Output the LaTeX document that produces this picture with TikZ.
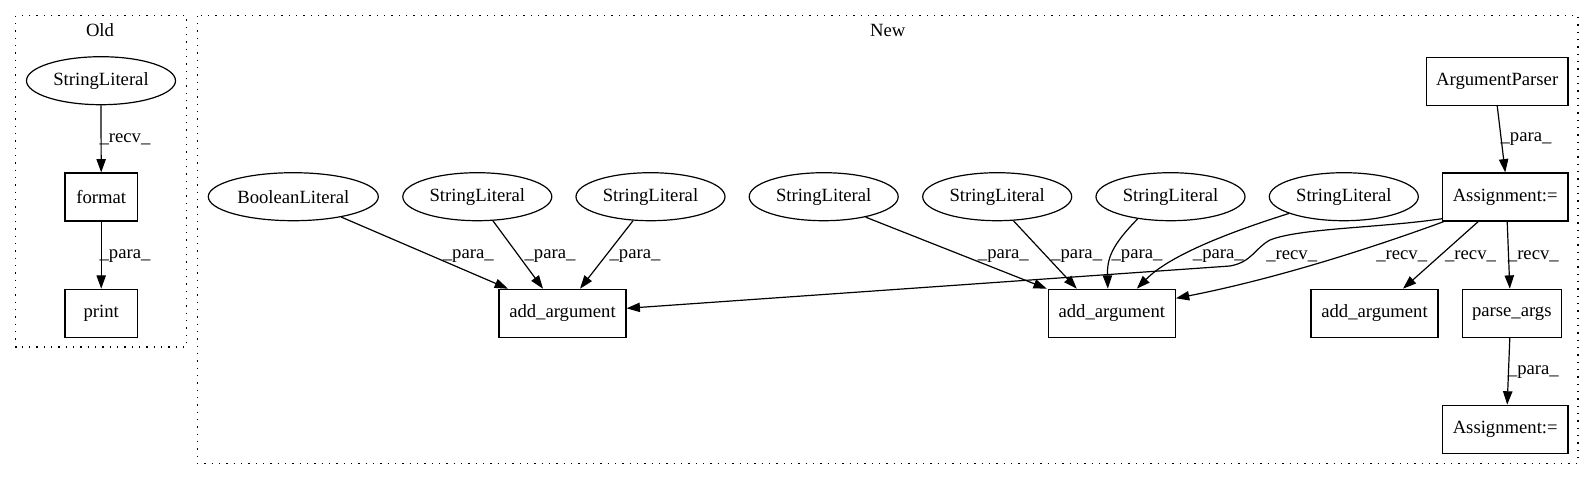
\documentclass[tikz,border=0pt]{standalone}
\usepackage{fontspec}
\setmainfont{Liberation Serif}
\usetikzlibrary{shapes.geometric, arrows.meta, calc}

\begin{document}
\begin{tikzpicture}[x=0.75pt, y=-0.75pt, >={Triangle[length=10pt, width=7pt]},
	font=\fontsize{14pt}{17pt}\selectfont, line width=0.9pt,
	lit/.style={draw, ellipse, inner sep=0pt, minimum width=111.75pt, minimum height=36pt},
	op/.style={draw, rectangle, inner sep=0pt, minimum height=36pt},
	lbl/.style={inner sep=0pt},
	cluster/.style={draw, line width=0.9pt, dash pattern=on 1pt off 4.5pt}]
	
	% 1. Canvas and the two clusters
	\useasboundingbox (0,0) rectangle (1595,480);
	\draw[cluster] (15.7,15.7) rectangle (186.7,347);
	\draw[cluster] (197.3,15.7) rectangle (1578,463.3);
	\node[lbl] (oldtitle) at (100,30) {Old};
	\node[lbl] (newtitle) at (887.7,30) {New};
	
	% 2. Old version
	\node[lit] (oldlit) at (101,80.7) {StringLiteral};
	\node[op, minimum width=54.2pt] (format) at (101.2,197) {format};
	\node[op, minimum width=54.2pt] (print) at (101.2,313.3) {print};
	
	% 3. New version: the literals in one row
	\node[lit, minimum width=127.5pt] (boollit) at (293.3,196.7) {BooleanLiteral};
	\foreach \n/\x in {1/477.3, 2/650.5, 3/823.7, 4/997.2, 5/1170.5, 6/1343.8}
		\node[lit] (lit\n) at (\x,196.7) {StringLiteral};
	
	% 4. New version: the calls
	\node[op, minimum width=106.3pt] (argparser) at (1497.2,81.2) {ArgumentParser};
	\node[op, minimum width=94.3pt] (assign1) at (1505.2,197) {Assignment:=};
	\node[op, minimum width=95.25pt] (addarg1) at (562.5,313.3) {add\_argument};
	\node[op, minimum width=95.25pt] (addarg2) at (1111.8,313.3) {add\_argument};
	\node[op, minimum width=95.25pt] (addarg3) at (1374.5,313.3) {add\_argument};
	\node[op, minimum width=74.25pt] (parseargs) at (1511.8,313.3) {parse\_args};
	\node[op, minimum width=94.3pt] (assign2) at (1505.2,429.2) {Assignment:=};
	
	% 5. Old edges
	\draw[->] (oldlit.south) -- (format.north);
	\draw[->] (format.south) -- (print.north);
	\node[lbl] (oldrecv) at (125,139.3) {\_recv\_};
	\node[lbl] (oldpara) at (125,256) {\_para\_};
	
	% 6. Literals into add_argument
	\draw[->] (boollit.-23.5) -- ($(addarg1.north)+(-54.5,0)$);
	\draw[->] (lit1.-57) -- ($(addarg1.north)+(-19.5,0)$);
	\draw[->] (lit2.-126) -- ($(addarg1.north)+(17.5,0)$);
	\draw[->] (lit3.-26) -- ($(addarg2.north)+(-65,0)$);
	\draw[->] (lit4.-56) -- ($(addarg2.north)+(-35,0)$);
	\draw[->] (lit5.-146) .. controls (1112,245) and (1107,258) .. ($(addarg2.north)+(-4,0)$);
	\draw[->] (lit6.-163) .. controls (1230,232) and (1170,255) .. ($(addarg2.north)+(25,0)$);
	\node[lbl] (para1) at (468.3,256) {\_para\_};
	\node[lbl] (para2) at (550,256) {\_para\_};
	\node[lbl] (para3) at (635,256) {\_para\_};
	\node[lbl] (para4) at (1003.3,256) {\_para\_};
	\node[lbl] (para5) at (1076.7,256) {\_para\_};
	\node[lbl] (para6) at (1137,256) {\_para\_};
	\node[lbl] (para7) at (1218.3,256) {\_para\_};
	
	% 7. Parser edges
	\draw[->] (argparser.south) -- (assign1.north);
	\draw[->] ($(assign1.south west)+(1,-3)$) .. controls (1380,228) and (1300,228) .. (1270,240)
		.. controls (1255,248) and (1252,262) .. (1230,266) -- ($(addarg1.east)+(0,-5)$);
	\draw[->] ($(assign1.south west)+(2,0)$) .. controls (1380,245) and (1280,278) .. ($(addarg2.east)+(0,-15)$);
	\draw[->] ($(assign1.south)+(-27,0)$) -- ($(addarg3.north)+(28.5,0)$);
	\draw[->] ($(assign1.south)+(2,0)$) -- ($(parseargs.north)+(-2,0)$);
	\draw[->] ($(parseargs.south)+(-2,0)$) -- ($(assign2.north)+(2,0)$);
	\node[lbl] (para8) at (1526,139.3) {\_para\_};
	\node[lbl] (recv1) at (1291.7,256) {\_recv\_};
	\node[lbl] (recv2) at (1401.7,256) {\_recv\_};
	\node[lbl] (recv3) at (1470.5,256) {\_recv\_};
	\node[lbl] (recv4) at (1533.3,256) {\_recv\_};
	\node[lbl] (para9) at (1533.3,372) {\_para\_};
	
\end{tikzpicture}
\end{document}
